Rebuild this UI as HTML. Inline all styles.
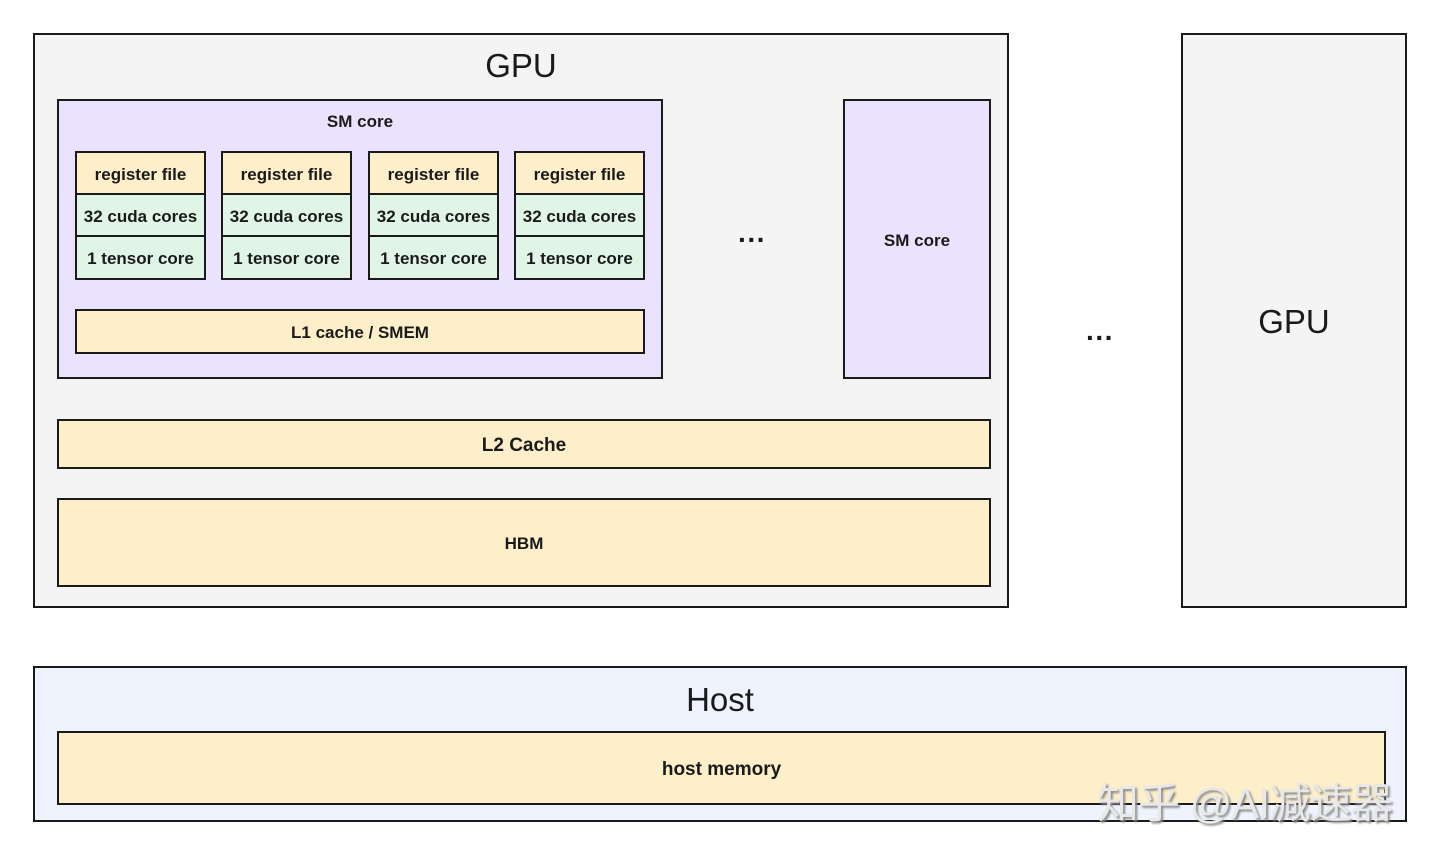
<!DOCTYPE html>
<html><head><meta charset="utf-8"><style>
body{margin:0;width:1440px;height:855px;background:#fff;position:relative;font-family:"Liberation Sans","Noto Sans CJK SC",sans-serif;overflow:hidden}
.b{position:absolute;box-sizing:border-box;border:2.5px solid #1a1a1a;display:flex;align-items:center;justify-content:center;font-weight:bold;font-size:17px;color:#1a1a1a;padding-top:3px}
.y{background:#fdefc9}.g{background:#e1f5e6}.p{background:#ebe2fd}.gr{background:#f4f4f4}.h{background:#eef3fd}
.t{position:absolute;font-size:33px;color:#1a1a1a;text-align:center}
</style></head><body>
<div class="b gr" style="left:33px;top:33px;width:976px;height:575px"></div>
<div class="t" style="left:33px;width:976px;top:47px">GPU</div>
<div class="b gr" style="left:1181px;top:33px;width:226px;height:575px;font-weight:normal;font-size:33px">GPU</div>
<div class="b p" style="left:57px;top:99px;width:606px;height:280px;align-items:flex-start;padding-top:11px">SM core</div>
<div class="b p" style="left:843px;top:99px;width:148px;height:280px">SM core</div>
<div class="t" style="left:722px;width:60px;top:224px;font-size:28px;font-weight:bold">···</div>
<div class="t" style="left:1070px;width:60px;top:322px;font-size:28px;font-weight:bold">···</div>

<div class="b y" style="left:75px;top:151px;width:131px;height:44px">register file</div>
<div class="b g" style="left:75px;top:193px;width:131px;height:44px">32 cuda cores</div>
<div class="b g" style="left:75px;top:235px;width:131px;height:45px">1 tensor core</div>
<div class="b y" style="left:221px;top:151px;width:131px;height:44px">register file</div>
<div class="b g" style="left:221px;top:193px;width:131px;height:44px">32 cuda cores</div>
<div class="b g" style="left:221px;top:235px;width:131px;height:45px">1 tensor core</div>
<div class="b y" style="left:368px;top:151px;width:131px;height:44px">register file</div>
<div class="b g" style="left:368px;top:193px;width:131px;height:44px">32 cuda cores</div>
<div class="b g" style="left:368px;top:235px;width:131px;height:45px">1 tensor core</div>
<div class="b y" style="left:514px;top:151px;width:131px;height:44px">register file</div>
<div class="b g" style="left:514px;top:193px;width:131px;height:44px">32 cuda cores</div>
<div class="b g" style="left:514px;top:235px;width:131px;height:45px">1 tensor core</div>

<div class="b y" style="left:75px;top:309px;width:570px;height:45px">L1 cache / SMEM</div>
<div class="b y" style="left:57px;top:419px;width:934px;height:50px;font-size:19px">L2 Cache</div>
<div class="b y" style="left:57px;top:498px;width:934px;height:89px">HBM</div>

<div class="b h" style="left:33px;top:666px;width:1374px;height:156px"></div>
<div class="t" style="left:33px;width:1374px;top:681px">Host</div>
<div class="b y" style="left:57px;top:731px;width:1329px;height:74px;font-size:19px">host memory</div>
<div class="t" style="left:1097px;top:770px;font-size:42px;color:#e8e8e8;text-shadow:2px 2px 2px #888;white-space:nowrap;letter-spacing:-1px">知乎 @AI减速器</div>
</body></html>
